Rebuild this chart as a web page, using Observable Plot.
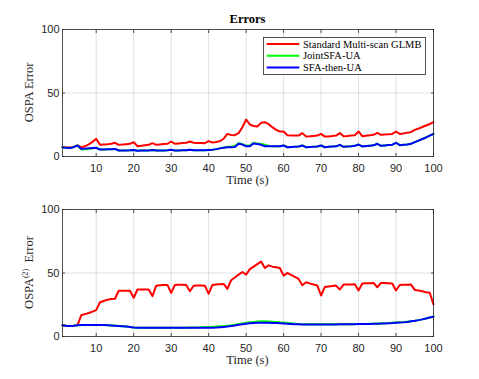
<!DOCTYPE html>
<html>
<head>
<meta charset="utf-8">
<script src="https://cdn.jsdelivr.net/npm/d3@7"></script>
<script src="https://cdn.jsdelivr.net/npm/@observablehq/plot@0.6"></script>
<style>
  body { margin: 0; background: #fff; }
  #fig { width: 479px; height: 379px; position: relative; }
  #fig svg { display: block; }
</style>
</head>
<body>
<div id="fig"></div>
<script>
const time = d3.range(1, 101);

const seriesNames = ["Standard Multi-scan GLMB", "JointSFA-UA", "SFA-then-UA"];
const seriesColors = ["#ff0000", "#00ff00", "#0000ff"];

const xTicks = [10, 20, 30, 40, 50, 60, 70, 80, 90, 100];
const yTicks = [0, 50, 100];

const titleText = "Errors";
const xLabel = "Time (s)";
const yLabelTop = "OSPA Error";

// Top panel: OSPA error
const topRed = [7.3,7.0,7.0,7.8,8.7,7.3,8.0,9.5,11.5,13.9,
9.2,9.4,9.6,10.0,10.8,9.2,9.4,9.7,10.0,11.3,
8.1,8.4,8.8,9.2,10.5,9.2,9.5,9.8,10.0,11.8,
10.0,10.3,10.6,10.8,11.8,10.8,10.7,10.6,10.5,12.1,
11.0,11.4,12.1,14.0,17.8,17.0,16.8,18.4,23.0,29.1,
25.2,24.0,23.6,26.5,27.0,25.5,23.1,21.0,19.7,19.7,
16.8,16.6,16.5,16.5,18.4,15.7,15.9,16.2,16.5,17.8,
15.7,15.8,16.1,16.5,18.4,16.0,16.2,16.5,16.8,19.7,
16.0,16.4,16.8,17.1,18.6,17.1,17.3,17.5,17.8,19.7,
17.8,18.2,18.7,19.2,21.0,22.0,23.2,24.4,25.6,27.0];

const topGreen = [7.3,6.8,6.6,7.4,8.7,5.6,5.8,6.0,6.3,6.8,
5.5,5.6,5.7,5.8,6.0,4.7,4.8,4.8,4.9,5.2,
4.6,4.7,4.7,4.8,5.2,4.7,4.8,4.8,4.9,5.3,
4.8,4.8,4.9,4.9,5.3,4.9,4.9,5.0,5.0,5.2,
5.4,5.8,6.4,7.1,7.6,7.8,8.3,10.5,9.8,8.6,
8.8,10.8,10.3,9.8,9.2,8.4,8.0,8.0,8.1,8.7,
7.3,7.5,7.7,7.9,8.7,7.3,7.5,7.7,7.9,8.7,
7.3,7.6,7.8,8.0,9.2,7.6,7.9,8.1,8.4,9.4,
7.9,8.2,8.5,8.8,10.0,8.4,8.7,9.0,9.3,10.8,
8.9,9.2,9.5,10.0,11.3,12.5,13.8,15.0,16.4,17.8];

const topBlue = [7.3,6.8,6.6,7.4,8.7,6.0,6.2,6.4,6.6,6.8,
5.5,5.6,5.7,5.8,6.0,4.7,4.8,4.8,4.9,5.2,
4.6,4.7,4.7,4.8,5.2,4.7,4.8,4.8,4.9,5.3,
4.8,4.8,4.9,4.9,5.3,4.9,4.9,5.0,5.0,5.2,
5.4,5.8,6.4,6.9,7.3,7.3,7.5,10.0,9.4,8.1,
8.1,10.3,9.8,9.2,8.1,8.0,8.0,8.0,8.1,8.7,
7.3,7.5,7.7,7.9,8.7,7.3,7.5,7.7,7.9,8.7,
7.3,7.6,7.8,8.0,9.2,7.6,7.9,8.1,8.4,9.4,
7.9,8.2,8.5,8.8,10.0,8.4,8.7,9.0,9.3,10.8,
8.9,9.2,9.5,10.0,11.3,12.5,13.8,15.0,16.4,17.8];

// Bottom panel: OSPA(2) error
const botRed = [8.7,8.3,8.2,8.5,9.0,16.7,17.6,18.5,19.6,20.8,
27.0,28.0,29.0,29.5,29.7,36.0,36.1,36.1,36.0,30.5,
37.0,37.1,37.1,37.0,31.8,40.0,40.3,40.5,40.6,34.4,
40.6,40.8,40.8,40.6,35.7,40.0,40.1,40.1,40.0,33.6,
40.6,41.0,41.2,41.4,37.5,44.3,46.5,48.7,50.8,48.7,
53.0,55.0,57.0,59.0,53.9,56.0,55.0,54.5,53.9,47.9,
50.0,48.5,47.0,45.3,40.4,42.7,41.8,41.0,40.1,32.3,
39.0,39.4,39.8,40.1,37.0,40.9,41.0,41.0,41.1,36.2,
41.7,41.9,42.0,42.2,38.8,42.2,42.1,41.9,41.7,36.2,
40.6,40.7,40.8,40.9,36.7,36.2,35.6,34.9,34.4,25.3];

const botGreen = [8.9,8.5,8.3,8.5,8.9,9.1,9.1,9.1,9.1,9.1,
9.1,9.0,8.9,8.7,8.5,8.3,8.1,7.8,7.4,7.0,
6.9,6.8,6.8,6.8,6.8,6.8,6.8,6.8,6.8,6.8,
6.8,6.8,6.9,6.9,7.0,7.0,7.1,7.3,7.4,7.5,
7.6,7.8,8.0,8.2,8.5,8.8,9.3,9.8,10.3,10.8,
11.2,11.5,11.8,12.0,12.0,11.9,11.7,11.5,11.2,11.0,
10.7,10.4,10.1,9.8,9.7,9.6,9.6,9.6,9.6,9.6,
9.6,9.6,9.6,9.6,9.6,9.6,9.7,9.7,9.8,9.8,
9.9,9.9,10.0,10.1,10.2,10.3,10.5,10.6,10.8,11.0,
11.2,11.4,11.7,12.0,12.4,12.9,13.5,14.2,14.9,15.6];

const botBlue = [8.9,8.5,8.3,8.5,8.9,9.1,9.1,9.1,9.1,9.1,
9.1,9.0,8.9,8.7,8.5,8.3,8.1,7.8,7.4,7.0,
6.9,6.8,6.8,6.8,6.8,6.8,6.8,6.8,6.8,6.8,
6.8,6.8,6.8,6.8,6.8,6.8,6.8,6.8,6.8,6.8,
6.9,7.0,7.2,7.5,7.8,8.2,8.7,9.2,9.7,10.1,
10.4,10.7,10.9,10.9,10.9,10.8,10.7,10.7,10.5,10.3,
10.1,9.9,9.7,9.6,9.5,9.5,9.5,9.5,9.5,9.5,
9.5,9.5,9.5,9.5,9.6,9.6,9.6,9.7,9.7,9.8,
9.8,9.9,9.9,10.0,10.1,10.2,10.3,10.5,10.6,10.8,
11.0,11.2,11.5,12.0,12.4,12.9,13.5,14.2,14.9,15.6];

function table(arrays) {
  const rows = [];
  arrays.forEach((vals, s) => {
    vals.forEach((v, i) => rows.push({t: time[i], v, series: seriesNames[s]}));
  });
  return rows;
}

const tickFont = "'Liberation Sans', Arial, sans-serif";
const serif = "'Liberation Serif', 'DejaVu Serif', serif";
const axisColor = "#262626";

function panel(rows, {height, marginTop, marginBottom}) {
  return Plot.plot({
    width: 479,
    height,
    marginLeft: 62,
    marginRight: 46,
    marginTop,
    marginBottom,
    style: {fontFamily: tickFont, fontSize: "11px", color: axisColor, background: "white", overflow: "visible"},
    x: {domain: [1, 100]},
    y: {domain: [0, 100]},
    color: {domain: seriesNames, range: seriesColors},
    marks: [
      Plot.gridX(xTicks, {stroke: "#000", strokeOpacity: 0.12}),
      Plot.gridY(yTicks, {stroke: "#000", strokeOpacity: 0.12}),
      Plot.lineY(rows, {x: "t", y: "v", z: "series", stroke: "series", strokeWidth: 2, strokeLinejoin: "round"}),
      Plot.frame({stroke: axisColor, strokeWidth: 0.8}),
      Plot.axisX(xTicks, {anchor: "bottom", tickSize: -3, fill: "none", stroke: axisColor, strokeWidth: 0.8, label: null}),
      Plot.axisX(xTicks, {anchor: "top", tickSize: -3, fill: "none", stroke: axisColor, strokeWidth: 0.8, label: null}),
      Plot.axisY(yTicks, {anchor: "left", tickSize: -3, fill: "none", stroke: axisColor, strokeWidth: 0.8, label: null}),
      Plot.axisY(yTicks, {anchor: "right", tickSize: -3, fill: "none", stroke: axisColor, strokeWidth: 0.8, label: null}),
      Plot.axisX(xTicks, {anchor: "bottom", tickSize: 0, tickPadding: 8, fill: axisColor, label: null}),
      Plot.axisY(yTicks, {anchor: "left", tickSize: 0, tickPadding: 3, fill: axisColor, label: null})
    ]
  });
}

const fig = document.getElementById("fig");

const topSvg = panel(table([topRed, topGreen, topBlue]), {height: 190, marginTop: 29, marginBottom: 34});
const botSvg = panel(table([botRed, botGreen, botBlue]), {height: 189, marginTop: 19, marginBottom: 43});
fig.appendChild(topSvg);
fig.appendChild(botSvg);

// Titles and axis labels
const ts = d3.select(topSvg);
ts.append("text").attr("x", 247.5).attr("y", 23).attr("text-anchor", "middle")
  .attr("font-family", serif).attr("font-weight", "bold").attr("font-size", 12.5).attr("fill", "#000").text(titleText);
ts.append("text").attr("x", 247.5).attr("y", 184).attr("text-anchor", "middle")
  .attr("font-family", serif).attr("font-size", 12.5).attr("fill", axisColor).text(xLabel);
ts.append("text").attr("transform", "translate(33,92.5) rotate(-90)").attr("text-anchor", "middle")
  .attr("font-family", serif).attr("font-size", 12.5).attr("fill", axisColor).text(yLabelTop);

const bs = d3.select(botSvg);
bs.append("text").attr("x", 247.5).attr("y", 174).attr("text-anchor", "middle")
  .attr("font-family", serif).attr("font-size", 12.5).attr("fill", axisColor).text(xLabel);
const yl = bs.append("text").attr("transform", "translate(33,82.5) rotate(-90)").attr("text-anchor", "middle")
  .attr("font-family", serif).attr("font-size", 12.5).attr("fill", axisColor);
yl.append("tspan").text("OSPA");
yl.append("tspan").attr("font-size", 8).attr("dy", -5).text("(2)");
yl.append("tspan").attr("dy", 5).text("\u00a0 Error");

// Legend
const lg = ts.append("g");
lg.append("rect").attr("x", 263.5).attr("y", 37.5).attr("width", 162).attr("height", 37)
  .attr("fill", "white").attr("stroke", axisColor).attr("stroke-width", 0.8);
seriesNames.forEach((name, i) => {
  const y = 44 + i * 11.8;
  lg.append("line").attr("x1", 266.7).attr("x2", 299.3).attr("y1", y).attr("y2", y)
    .attr("stroke", seriesColors[i]).attr("stroke-width", 2);
  lg.append("text").attr("x", 303).attr("y", y + 3.6).attr("text-anchor", "start").attr("font-family", serif)
    .attr("font-size", 10.5).attr("fill", "#000").text(name);
});
</script>
</body>
</html>
